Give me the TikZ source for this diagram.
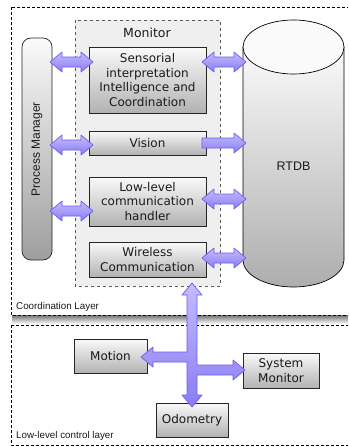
\documentclass[tikz,border=0pt]{standalone}
\usepackage{fontspec}
\usetikzlibrary{calc}
\newfontfamily\vfont{DejaVu Sans}
\newfontfamily\afont{Liberation Sans}
\definecolor{arrfill1}{HTML}{C4BCFF}
\definecolor{arrfill2}{HTML}{8A7CF2}
\definecolor{arrline}{HTML}{6B5CF5}
\definecolor{boxtop}{HTML}{FAFAFA}
\definecolor{boxbot}{HTML}{B2B2B2}
\definecolor{montfill}{HTML}{EFEFEF}
\definecolor{txt}{HTML}{1A1A1A}
\tikzset{
  layerbox/.style={draw=black, fill=white, line width=0.8pt, dash pattern=on 3pt off 2pt},
  monbox/.style={draw=black!65, fill=montfill, line width=0.8pt, dash pattern=on 3pt off 3pt},
  compbox/.style={draw=black!85, line width=0.7pt, top color=boxtop, bottom color=boxbot,
     align=center, font=\vfont\fontsize{12}{14.5}\selectfont, text=txt, inner sep=1pt,
     preaction={fill=black!25, transform canvas={xshift=1pt,yshift=-1pt}}},
  fatarr/.style={draw=arrline, line width=0.7pt, top color=arrfill1, bottom color=arrfill2, line join=round},
  layerlabel/.style={font=\afont\fontsize{9.8}{11}\selectfont, text=txt, anchor=base west, inner sep=0pt},
}
\newcommand{\hdarrow}[2]{%
 \path[fatarr] let \p1=(#1), \p2=(#2) in
 (\x1,\y1) -- (\x1+12pt,\y1+10pt) -- (\x1+12pt,\y1+5pt) -- (\x2-12pt,\y1+5pt) -- (\x2-12pt,\y1+10pt)
 -- (\x2,\y1) -- (\x2-12pt,\y1-10pt) -- (\x2-12pt,\y1-5pt) -- (\x1+12pt,\y1-5pt) -- (\x1+12pt,\y1-10pt) -- cycle;}
\newcommand{\hsarrow}[2]{%
 \path[fatarr] let \p1=(#1), \p2=(#2) in
 (\x1,\y1+5pt) -- (\x2-12pt,\y1+5pt) -- (\x2-12pt,\y1+10pt)
 -- (\x2,\y1) -- (\x2-12pt,\y1-10pt) -- (\x2-12pt,\y1-5pt) -- (\x1,\y1-5pt) -- cycle;}
\begin{document}
\begin{tikzpicture}[x=1pt,y=-1pt]
\useasboundingbox (0,0) rectangle (348,447);
\clip (0,0) rectangle (348,447);
% layers
\shade[top color=black!55, bottom color=white] (12,315) rectangle (360,324);
\draw[layerbox] (11,7) rectangle (360,315);
\draw[layerbox] (11,325) rectangle (360,445);
\node[layerlabel] (coordlbl) at (16,309) {Coordination Layer};
\node[layerlabel] (lowlbl) at (16,438) {Low-level control layer};
% monitor
\draw[monbox] (75,20) rectangle (220,286);
\node[font=\vfont\fontsize{12.5}{14}\selectfont, text=txt] (monlbl) at (147,33) {Monitor};
% process manager
\shade[draw=black!85, line width=0.7pt, top color=boxtop, bottom color=black!38, rounded corners=9pt]
  (22,38) rectangle (52,260);
\node[rotate=90, font=\afont\fontsize{12}{14}\selectfont, text=txt] (pm) at (37,149) {Process Manager};
\coordinate (pmE) at (52,149);
% components
\node[compbox, minimum width=117pt, minimum height=66pt] (sens) at (147.5,80) {Sensorial\\interpretation\\Intelligence and\\Coordination};
\node[compbox, minimum width=117pt, minimum height=24pt] (vis) at (147.5,143) {Vision};
\node[compbox, minimum width=117pt, minimum height=49pt] (llc) at (147.5,201.5) {Low-level\\communication\\handler};
\node[compbox, minimum width=117pt, minimum height=35pt] (wir) at (147.5,259.5) {Wireless\\Communication};
% RTDB
\shade[draw=black, line width=0.7pt, top color=boxtop, bottom color=black!32]
  (243,47) -- (243,260) arc[start angle=180, end angle=360, x radius=50.5pt, y radius=27pt] -- (344,47) -- cycle;
\filldraw[draw=black, line width=0.7pt, fill=boxtop] (293.5,47) ellipse[x radius=50.5pt, y radius=27pt];
\node[font=\afont\fontsize{12.5}{14}\selectfont, text=txt] (rtdb) at (293.5,166) {RTDB};
% left arrows
\coordinate (l1a) at (50,62);  \coordinate (l1b) at (93,62);
\coordinate (l2a) at (50,145); \coordinate (l2b) at (93,145);
\coordinate (l3a) at (50,211); \coordinate (l3b) at (93,211);
\hdarrow{l1a}{l1b}
\hdarrow{l2a}{l2b}
\hdarrow{l3a}{l3b}
% right arrows
\coordinate (r1a) at (202,62);  \coordinate (r1b) at (246,62);
\coordinate (r2a) at (202,143); \coordinate (r2b) at (246,143);
\coordinate (r3a) at (202,199); \coordinate (r3b) at (246,199);
\coordinate (r4a) at (202,258); \coordinate (r4b) at (246,258);
\hdarrow{r1a}{r1b}
\hsarrow{r2a}{r2b}
\hdarrow{r3a}{r3b}
\hdarrow{r4a}{r4b}
% low-level components
\node[compbox, minimum width=73pt, minimum height=34pt] (motion) at (110.5,356) {Motion};
\node[compbox, minimum width=76pt, minimum height=35pt] (sysmon) at (281,370.5) {System\\Monitor};
\node[compbox, minimum width=72pt, minimum height=34pt] (odo) at (192,420) {Odometry};
% junction arrow
\path[fatarr] (192,283) -- (202,295) -- (197,295) -- (197,365) -- (233,365) -- (233,360) -- (245,370)
  -- (233,380) -- (233,375) -- (197,375) -- (197,395) -- (202,395) -- (192,407) -- (182,395)
  -- (187,395) -- (187,362) -- (153,362) -- (153,367) -- (141,357) -- (153,347) -- (153,352)
  -- (187,352) -- (187,295) -- (182,295) -- cycle;
\end{tikzpicture}
\end{document}
